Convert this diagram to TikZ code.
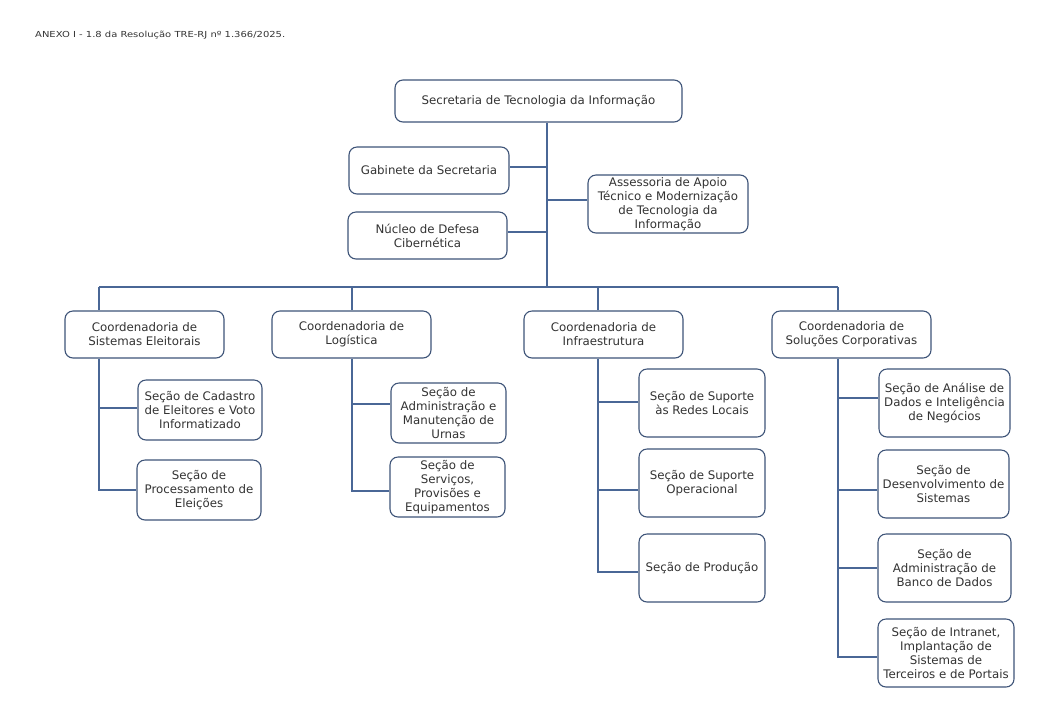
\documentclass[tikz,border=0pt]{standalone}
\usepackage{fontspec}
\usepackage{graphicx}
\setmainfont{DejaVu Sans}
\usetikzlibrary{calc}
\definecolor{lnc}{HTML}{4A6796}
\definecolor{bdc}{HTML}{3E5478}
\definecolor{txc}{HTML}{333333}
\newcommand{\lw}[2]{\resizebox{#1pt}{\height}{#2}}
\begin{document}
\begin{tikzpicture}[x=1pt,y=-1pt,
  box/.style={draw=bdc,line width=1.1pt,rounded corners=8pt,fill=white,text=txc,align=center,
    font=\fontsize{11.8}{14}\selectfont,inner sep=0pt},
  con/.style={draw=lnc,line width=1.1pt}]
\useasboundingbox (0,0) rectangle (1054,716);
\node[anchor=west,text=txc,font=\fontsize{8.3}{10}\selectfont,inner sep=0pt] (title) at (35,35) {\lw{250}{ANEXO I - 1.8 da Resolução TRE-RJ nº 1.366/2025.}};
\newcommand{\bx}[6]{\node[box,minimum width=#4-#2,minimum height=#5-#3] (#1) at ({(#2+#4)/2},{(#3+#5)/2}) {#6};}
\bx{top}{395}{80}{682}{122}{Secretaria de Tecnologia da Informação}
\bx{gab}{349}{147}{509}{194}{Gabinete da Secretaria}
\bx{nuc}{348}{212}{507}{259}{Núcleo de Defesa\\Cibernética}
\bx{ass}{588}{175}{748}{233}{Assessoria de Apoio\\Técnico e Modernização\\de Tecnologia da\\Informação}
\bx{c1}{65}{311}{224}{358}{Coordenadoria de\\Sistemas Eleitorais}
\bx{c2}{272}{311}{431}{358}{Coordenadoria de\\Logística}
\bx{c3}{524}{311}{683}{358}{Coordenadoria de\\Infraestrutura}
\bx{c4}{772}{311}{931}{358}{Coordenadoria de\\Soluções Corporativas}
\bx{s11}{138}{380}{262}{440}{Seção de Cadastro\\de Eleitores e Voto\\Informatizado}
\bx{s12}{137}{460}{261}{520}{Seção de\\Processamento de\\Eleições}
\bx{s21}{391}{383}{506}{443}{Seção de\\Administração e\\Manutenção de\\Urnas}
\bx{s22}{390}{457}{505}{517}{Seção de\\Serviços,\\Provisões e\\Equipamentos}
\bx{s31}{639}{369}{765}{437}{Seção de Suporte\\às Redes Locais}
\bx{s32}{639}{449}{765}{517}{Seção de Suporte\\Operacional}
\bx{s33}{639}{534}{765}{602}{Seção de Produção}
\bx{s41}{879}{369}{1010}{437}{Seção de Análise de\\Dados e Inteligência\\de Negócios}
\bx{s42}{878}{450}{1009}{518}{Seção de\\Desenvolvimento de\\Sistemas}
\bx{s43}{878}{534}{1011}{602}{Seção de\\Administração de\\Banco de Dados}
\bx{s44}{878}{619}{1014}{687}{Seção de Intranet,\\Implantação de\\Sistemas de\\Terceiros e de Portais}
% junction coordinates
\coordinate (tr) at (547,287);
\coordinate (d1) at (99,287);
\coordinate (d2) at (352,287);
\coordinate (d3) at (598,287);
\coordinate (d4) at (838,287);
\newcommand{\br}[3]{\draw[con] ($(#1 |- #2.west)+(0,#3)$) -- ($(#2.west)+(0,#3)$);}
\newcommand{\brr}[3]{\draw[con] ($(#1 |- #2.east)+(0,#3)$) -- ($(#2.east)+(0,#3)$);}
% trunk
\draw[con] (tr |- top.south) -- (tr);
\brr{tr}{gab}{-3.5}
\brr{tr}{nuc}{-3.5}
\br{tr}{ass}{-4}
\draw[con] (d1) -- (d4);
\draw[con] (d1) -- (d1 |- c1.north);
\draw[con] (d2) -- (d2 |- c2.north);
\draw[con] (d3) -- (d3 |- c3.north);
\draw[con] (d4) -- (d4 |- c4.north);
% sub trees
\draw[con] (d1 |- c1.south) -- ($(d1 |- s12.west)+(0,0.5)$);
\br{d1}{s11}{-2}
\br{d1}{s12}{0}
\draw[con] (d2 |- c2.south) -- ($(d2 |- s22.west)+(0,4.5)$);
\br{d2}{s21}{-9}
\br{d2}{s22}{4}
\draw[con] (d3 |- c3.south) -- ($(d3 |- s33.west)+(0,4.5)$);
\br{d3}{s31}{-1}
\br{d3}{s32}{7}
\br{d3}{s33}{4}
\draw[con] (d4 |- c4.south) -- ($(d4 |- s44.west)+(0,4.5)$);
\br{d4}{s41}{-5}
\br{d4}{s42}{6}
\br{d4}{s43}{0}
\br{d4}{s44}{4}
\end{tikzpicture}
\end{document}
